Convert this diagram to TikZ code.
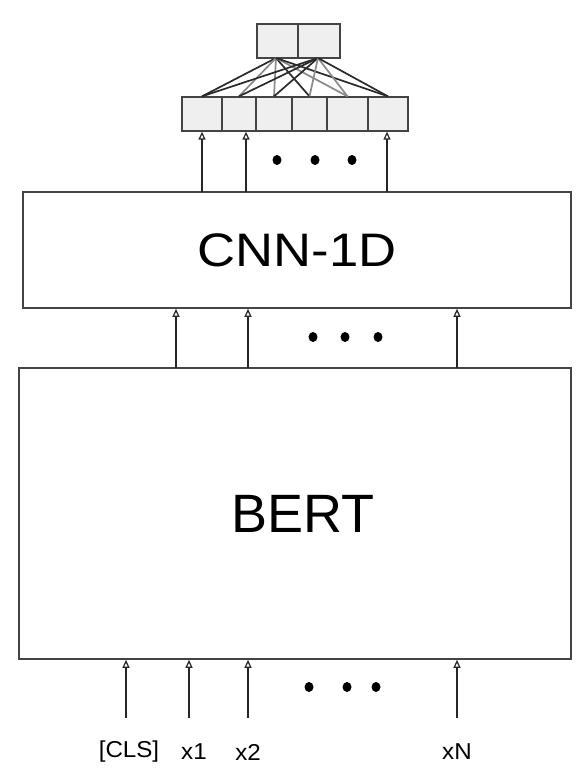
\documentclass[tikz,border=0pt]{standalone}
\usepackage{fontspec}
\setmainfont{Liberation Sans}
\usetikzlibrary{arrows.meta,positioning}
\definecolor{boxLine}{HTML}{444444}
\definecolor{cellFill}{HTML}{EFEFEF}
\definecolor{linkDark}{HTML}{2A2A2A}
\definecolor{linkGray}{HTML}{8A8A8A}

\begin{document}
\begin{tikzpicture}[x=1pt, y=1pt,
    blk/.style={draw=boxLine, line width=1.6pt, inner sep=0pt},
    cell/.style={draw=boxLine, line width=1.3pt, fill=cellFill, inner sep=0pt,
      minimum height=34pt},
    arr/.style={-{Triangle[open, length=8pt, width=7pt, line width=1.2pt]},
      line width=1.6pt, black!85},
    lnk/.style={line width=1.7pt, linkDark},
    lnkg/.style={line width=1.7pt, linkGray},
    lbl/.style={font=\fontsize{23}{26}\selectfont, inner sep=0pt},
    dot/.style={fill=black}]
  \useasboundingbox (0,0) rectangle (584,-768);
  % main blocks
  \node[blk, minimum width=548pt, minimum height=116pt] (cnn) at (297,-250)
    {\fontsize{47}{52}\selectfont\scalebox{1.12}[1]{CNN-1D}};
  \node[blk, minimum width=552pt, minimum height=291pt] (bert) at (295,-513.5)
    {\hspace*{16pt}\fontsize{54}{60}\selectfont BERT};
  % output cells
  \foreach \l/\r [count=\i] in {182/222, 222/256, 256/292, 292/327, 327/368, 368/408}
    \node[cell, minimum width=\r pt-\l pt] (c\i) at ({(\l+\r)/2},-114) {};
  \node[cell, minimum width=41pt] (o1) at (277.5,-41) {};
  \node[cell, minimum width=42pt] (o2) at (319,-41) {};
  % dense links
  \coordinate (oa) at (276,-58);
  \coordinate (ob) at (318,-58);
  \draw[lnk] (oa) -- (c1.north);
  \draw[lnkg] (oa) -- (c2.north);
  \draw[lnkg] (oa) -- (c3.north);
  \draw[lnk] (oa) -- (c4.north);
  \draw[lnkg] (oa) -- (c5.north);
  \draw[lnk] (oa) -- (c6.north);
  \draw[lnk] (ob) -- (c1.north);
  \draw[lnk] (ob) -- (c2.north);
  \draw[lnk] (ob) -- (c3.north);
  \draw[lnkg] (ob) -- (c4.north);
  \draw[lnkg] (ob) -- (c5.north);
  \draw[lnk] (ob) -- (c6.north);
  % cnn -> cells
  \coordinate (t1) at (202,-192);
  \coordinate (t2) at (246,-192);
  \coordinate (t3) at (387,-192);
  \draw[arr] (t1) -- (t1 |- c1.south);
  \draw[arr] (t2) -- (t2 |- c2.south);
  \draw[arr] (t3) -- (t3 |- c6.south);
  \fill[dot] (277,-160) ellipse (4.5pt and 5pt);
  \fill[dot] (315,-160) ellipse (4.5pt and 5pt);
  \fill[dot] (352,-160) ellipse (4.5pt and 5pt);
  % bert -> cnn
  \coordinate (m1) at (176,-368);
  \coordinate (m2) at (248,-368);
  \coordinate (m3) at (457,-368);
  \draw[arr] (m1) -- (m1 |- cnn.south);
  \draw[arr] (m2) -- (m2 |- cnn.south);
  \draw[arr] (m3) -- (m3 |- cnn.south);
  \fill[dot] (313,-337) ellipse (4.5pt and 5pt);
  \fill[dot] (345,-337) ellipse (4.5pt and 5pt);
  \fill[dot] (378,-337) ellipse (4.5pt and 5pt);
  % inputs
  \node[lbl] (cls) at (129,-752) {\scalebox{1.05}[1]{[CLS]}};
  \node[lbl] (x1) at (194,-752) {\scalebox{1.05}[1]{x1}};
  \node[lbl] (x2) at (248,-752) {\scalebox{1.05}[1]{x2}};
  \node[lbl] (xn) at (457,-752) {\scalebox{1.05}[1]{xN}};
  \coordinate (i1) at (126,-718);
  \coordinate (i2) at (189,-718);
  \coordinate (i3) at (248,-718);
  \coordinate (i4) at (457,-718);
  \draw[arr] (i1) -- (i1 |- bert.south);
  \draw[arr] (i2) -- (i2 |- bert.south);
  \draw[arr] (i3) -- (i3 |- bert.south);
  \draw[arr] (i4) -- (i4 |- bert.south);
  \fill[dot] (309,-687) ellipse (4.5pt and 5pt);
  \fill[dot] (347,-687) ellipse (4.5pt and 5pt);
  \fill[dot] (376,-687) ellipse (4.5pt and 5pt);
\end{tikzpicture}
\end{document}
